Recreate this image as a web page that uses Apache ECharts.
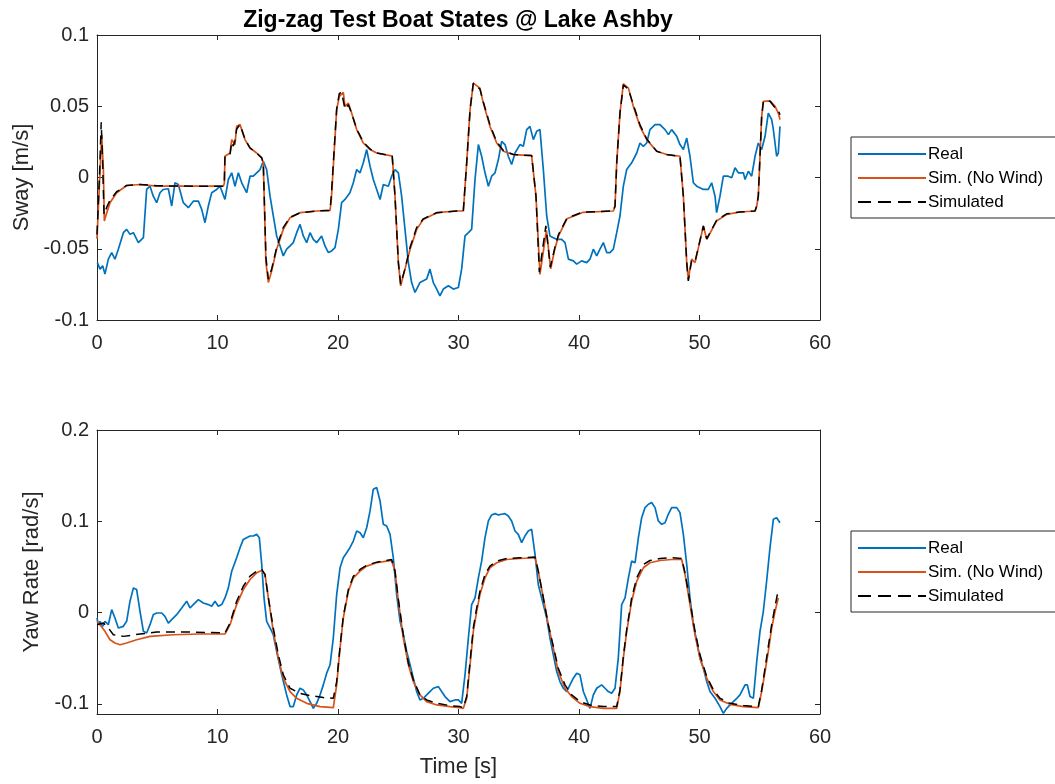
<!DOCTYPE html>
<html>
<head>
<meta charset="utf-8">
<title>Zig-zag Test Boat States @ Lake Ashby</title>
<script src="https://cdn.jsdelivr.net/npm/echarts@6.0.0/dist/echarts.min.js"></script>
<style>
  html, body { margin: 0; padding: 0; background: #fff; }
  #chart { width: 1055px; height: 784px; }
</style>
</head>
<body>
<div id="chart"></div>
<script>
// ---- Sway velocity [m/s] vs time [s] ----
const swayReal = [
  [0.03,-0.0597],[0.25,-0.0643],[0.47,-0.0620],[0.66,-0.0678],[0.94,-0.0573],[1.22,-0.0527],[1.49,-0.0573],[1.77,-0.0503],
  [2.19,-0.0387],[2.46,-0.0364],[2.74,-0.0399],[3.02,-0.0387],[3.43,-0.0457],[3.85,-0.0422],[4.12,-0.0084],[4.40,-0.0061],
  [4.67,-0.0131],[4.95,-0.0177],[5.23,-0.0107],[5.50,-0.0084],[5.92,-0.0079],[6.20,-0.0200],[6.47,-0.0037],[6.75,-0.0049],
  [7.16,-0.0177],[7.58,-0.0212],[7.99,-0.0166],[8.41,-0.0166],[8.69,-0.0224],[8.96,-0.0317],[9.24,-0.0200],[9.52,-0.0107],
  [9.93,-0.0084],[10.21,-0.0061],[10.62,-0.0154],[10.90,-0.0014],[11.18,0.0033],[11.45,-0.0061],[11.73,0.0033],[12.01,-0.0037],
  [12.42,-0.0107],[12.70,0.0009],[12.97,0.0009],[13.25,0.0033],[13.53,0.0056],[13.80,0.0114],[14.08,0.0056],[14.36,-0.0131],
  [14.63,-0.0270],[14.91,-0.0410],[15.19,-0.0480],[15.46,-0.0550],[15.74,-0.0503],[16.02,-0.0480],[16.29,-0.0457],[16.57,-0.0387],
  [16.85,-0.0329],[17.12,-0.0410],[17.40,-0.0457],[17.68,-0.0387],[17.95,-0.0434],[18.23,-0.0457],[18.64,-0.0410],[18.92,-0.0480],
  [19.20,-0.0527],[19.47,-0.0515],[19.75,-0.0492],[20.03,-0.0364],[20.30,-0.0177],[20.58,-0.0154],[20.99,-0.0107],[21.27,-0.0037],
  [21.55,0.0056],[21.83,0.0033],[22.10,0.0103],[22.38,0.0196],[22.66,0.0079],[22.93,-0.0014],[23.21,-0.0084],[23.49,-0.0154],
  [23.76,-0.0049],[24.18,-0.0061],[24.45,0.0009],[24.73,0.0056],[25.01,0.0033],[25.28,-0.0131],[25.56,-0.0364],[25.84,-0.0597],
  [26.11,-0.0737],[26.39,-0.0807],[26.80,-0.0737],[27.36,-0.0713],[27.63,-0.0643],[27.91,-0.0737],[28.19,-0.0783],[28.46,-0.0830],
  [28.74,-0.0783],[29.16,-0.0760],[29.57,-0.0783],[29.99,-0.0772],[30.26,-0.0643],[30.54,-0.0410],[30.82,-0.0387],[31.09,-0.0364],
  [31.37,-0.0014],[31.65,0.0231],[31.92,0.0149],[32.20,0.0033],[32.48,-0.0061],[32.75,0.0009],[33.03,0.0033],[33.31,0.0126],
  [33.58,0.0254],[33.86,0.0231],[34.13,0.0149],[34.41,0.0091],[34.69,0.0172],[35.10,0.0231],[35.38,0.0219],[35.66,0.0336],
  [35.93,0.0359],[36.21,0.0266],[36.49,0.0324],[36.76,0.0336],[37.04,0.0056],[37.32,-0.0270],[37.59,-0.0410],[37.87,-0.0422],
  [38.15,-0.0434],[38.56,-0.0434],[38.84,-0.0457],[39.12,-0.0573],[39.53,-0.0585],[39.81,-0.0608],[40.22,-0.0585],[40.64,-0.0597],
  [40.91,-0.0573],[41.19,-0.0503],[41.47,-0.0550],[41.74,-0.0503],[42.02,-0.0457],[42.30,-0.0527],[42.57,-0.0527],[42.85,-0.0503],
  [43.13,-0.0387],[43.40,-0.0270],[43.68,-0.0061],[43.96,0.0056],[44.37,0.0103],[44.79,0.0172],[45.06,0.0242],[45.34,0.0219],
  [45.62,0.0242],[45.89,0.0336],[46.31,0.0371],[46.72,0.0371],[47.14,0.0336],[47.42,0.0301],[47.69,0.0336],[48.11,0.0289],
  [48.38,0.0231],[48.66,0.0196],[48.94,0.0277],[49.21,0.0149],[49.49,-0.0037],[49.77,-0.0061],[50.32,-0.0084],[50.73,-0.0084],
  [51.01,-0.0037],[51.29,-0.0131],[51.42,-0.0247],[51.70,-0.0131],[51.98,0.0009],[52.39,0.0009],[52.67,-0.0002],[52.95,0.0068],
  [53.22,0.0033],[53.64,0.0033],[53.78,-0.0014],[54.05,0.0044],[54.33,0.0009],[54.61,0.0149],[54.88,0.0242],[55.16,0.0196],
  [55.44,0.0289],[55.71,0.0452],[55.85,0.0464],[55.99,0.0406],[56.13,0.0336],[56.40,0.0149],[56.54,0.0172],[56.68,0.0359]
];

const swaySimNoWind = [
  [0,-0.0430],[0.20,-0.0050],[0.39,0.0300],[0.53,0.0050],[0.61,-0.0305],[0.80,-0.0250],[1.08,-0.0177],[1.63,-0.0107],
  [2.46,-0.0056],[3.57,-0.0049],[5.00,-0.0060],[8.00,-0.0061],[10.48,-0.0061],[10.57,-0.0040],[10.62,0.0149],[11.04,0.0172],
  [11.18,0.0266],[11.45,0.0231],[11.59,0.0359],[11.87,0.0371],[12.28,0.0266],[12.70,0.0207],[13.25,0.0172],[13.67,0.0138],
  [13.80,0.0100],[14.02,-0.0597],[14.22,-0.0737],[14.50,-0.0655],[14.91,-0.0503],[15.46,-0.0364],[16.02,-0.0282],[16.85,-0.0247],
  [18.23,-0.0235],[19.34,-0.0231],[19.45,-0.0150],[19.89,0.0476],[20.11,0.0569],[20.44,0.0597],[20.58,0.0499],[20.86,0.0522],
  [21.13,0.0452],[21.55,0.0336],[22.10,0.0242],[22.66,0.0196],[23.21,0.0172],[24.32,0.0154],[24.50,0.0149],[24.73,-0.0131],
  [25.01,-0.0597],[25.20,-0.0760],[25.56,-0.0643],[25.98,-0.0503],[26.53,-0.0364],[27.08,-0.0294],[28.19,-0.0247],[29.85,-0.0235],
  [30.40,-0.0235],[30.68,0.0103],[30.96,0.0476],[31.23,0.0662],[31.37,0.0674],[31.78,0.0627],[32.06,0.0522],[32.61,0.0359],
  [33.17,0.0242],[33.72,0.0184],[34.55,0.0161],[36.07,0.0154],[36.21,0.0140],[36.43,-0.0131],[36.76,-0.0680],[37.30,-0.0370],
  [37.65,-0.0640],[38.00,-0.0500],[38.30,-0.0410],[39.00,-0.0290],[40.30,-0.0245],[42.85,-0.0235],[42.99,-0.0200],[43.13,0.0103],
  [43.40,0.0452],[43.68,0.0657],[44.10,0.0627],[44.51,0.0499],[45.06,0.0359],[45.62,0.0266],[46.45,0.0184],[47.28,0.0161],
  [48.38,0.0149],[48.52,0.0140],[48.66,-0.0131],[48.94,-0.0597],[49.07,-0.0713],[49.35,-0.0573],[49.63,-0.0597],[50.32,-0.0340],
  [50.60,-0.0434],[51.42,-0.0305],[52.26,-0.0259],[53.36,-0.0242],[54.61,-0.0235],[54.75,-0.0200],[54.88,-0.0131],[55.16,0.0429],
  [55.30,0.0534],[55.85,0.0538],[56.27,0.0499],[56.54,0.0452],[56.68,0.0406]
];

const swaySim = [
  [0,-0.0400],[0.20,0.0000],[0.35,0.0387],[0.47,0.0100],[0.58,-0.0260],[0.80,-0.0210],[1.08,-0.0160],[1.63,-0.0100],
  [2.46,-0.0056],[3.57,-0.0049],[5.00,-0.0058],[8.00,-0.0061],[10.48,-0.0061],[10.57,-0.0020],[10.62,0.0149],[11.04,0.0160],
  [11.18,0.0250],[11.31,0.0220],[11.45,0.0260],[11.59,0.0340],[11.87,0.0371],[12.28,0.0270],[12.70,0.0207],[13.25,0.0172],
  [13.67,0.0138],[13.80,0.0100],[14.02,-0.0560],[14.22,-0.0713],[14.50,-0.0640],[14.91,-0.0490],[15.46,-0.0350],[16.02,-0.0280],
  [16.85,-0.0247],[18.23,-0.0235],[19.34,-0.0231],[19.45,-0.0120],[19.89,0.0480],[20.11,0.0590],[20.30,0.0597],[20.44,0.0590],
  [20.58,0.0480],[20.86,0.0510],[21.13,0.0452],[21.55,0.0340],[22.10,0.0250],[22.66,0.0200],[23.21,0.0172],[24.32,0.0154],
  [24.50,0.0149],[24.73,-0.0131],[25.01,-0.0597],[25.20,-0.0748],[25.56,-0.0640],[25.98,-0.0490],[26.53,-0.0350],[27.08,-0.0290],
  [28.19,-0.0247],[29.85,-0.0235],[30.40,-0.0235],[30.68,0.0103],[30.96,0.0476],[31.23,0.0662],[31.37,0.0670],[31.78,0.0620],
  [32.06,0.0530],[32.61,0.0370],[33.17,0.0250],[33.72,0.0190],[34.55,0.0161],[36.07,0.0154],[36.21,0.0140],[36.43,-0.0131],
  [36.71,-0.0664],[37.25,-0.0340],[37.62,-0.0630],[38.00,-0.0490],[38.30,-0.0400],[39.00,-0.0285],[40.30,-0.0243],[42.85,-0.0235],
  [42.99,-0.0200],[43.13,0.0103],[43.40,0.0452],[43.68,0.0650],[44.10,0.0620],[44.51,0.0510],[45.06,0.0370],[45.62,0.0270],
  [46.45,0.0184],[47.28,0.0161],[48.38,0.0149],[48.52,0.0140],[48.66,-0.0131],[48.94,-0.0597],[49.07,-0.0725],[49.35,-0.0580],
  [49.63,-0.0590],[50.32,-0.0340],[50.60,-0.0430],[51.42,-0.0300],[52.26,-0.0255],[53.36,-0.0242],[54.61,-0.0235],[54.75,-0.0200],
  [54.88,-0.0131],[55.16,0.0429],[55.30,0.0534],[55.85,0.0535],[56.27,0.0490],[56.54,0.0470],[56.68,0.0440]
];

// ---- Yaw rate [rad/s] vs time [s] ----
const yawReal = [
  [0,-0.0059],[0.11,-0.0132],[0.25,-0.0095],[0.47,-0.0150],[0.66,-0.0095],[0.94,-0.0132],[1.22,0.0033],[1.49,-0.0059],
  [1.77,-0.0168],[2.19,-0.0150],[2.46,-0.0095],[2.74,0.0125],[3.02,0.0271],[3.29,0.0253],[3.57,0.0015],[3.85,-0.0205],
  [4.12,-0.0223],[4.40,-0.0132],[4.67,-0.0022],[4.95,-0.0004],[5.37,-0.0004],[5.64,-0.0040],[5.92,-0.0114],[6.20,-0.0077],
  [6.61,-0.0022],[7.03,0.0051],[7.44,0.0125],[7.72,0.0051],[7.99,0.0088],[8.41,0.0143],[8.82,0.0106],[9.24,0.0088],
  [9.52,0.0070],[9.79,0.0125],[10.07,0.0070],[10.35,0.0088],[10.62,0.0161],[10.90,0.0271],[11.18,0.0454],[11.59,0.0601],
  [11.87,0.0711],[12.14,0.0802],[12.42,0.0821],[12.70,0.0839],[12.97,0.0839],[13.25,0.0857],[13.47,0.0821],[13.67,0.0527],
  [13.86,0.0161],[14.08,-0.0095],[14.36,-0.0168],[14.63,-0.0242],[14.91,-0.0425],[15.33,-0.0681],[15.74,-0.0901],[16.02,-0.1029],
  [16.29,-0.1029],[16.57,-0.0901],[16.85,-0.0828],[17.12,-0.0846],[17.40,-0.0901],[17.68,-0.0974],[17.95,-0.1048],[18.23,-0.0993],
  [18.51,-0.0901],[18.78,-0.0791],[19.06,-0.0663],[19.34,-0.0571],[19.61,-0.0278],[19.89,0.0198],[20.17,0.0491],[20.44,0.0601],
  [20.72,0.0656],[20.99,0.0711],[21.27,0.0784],[21.55,0.0894],[21.83,0.0875],[22.10,0.0821],[22.38,0.0930],[22.66,0.1114],
  [22.93,0.1352],[23.21,0.1370],[23.49,0.1223],[23.76,0.0967],[24.04,0.0949],[24.32,0.0857],[24.59,0.0601],[24.87,0.0198],
  [25.15,-0.0095],[25.42,-0.0242],[25.70,-0.0425],[25.98,-0.0571],[26.25,-0.0718],[26.53,-0.0864],[26.80,-0.0956],[27.08,-0.0938],
  [27.36,-0.0901],[27.63,-0.0864],[27.91,-0.0828],[28.33,-0.0810],[28.60,-0.0864],[28.88,-0.0919],[29.29,-0.0974],[29.71,-0.0956],
  [29.99,-0.0956],[30.26,-0.0993],[30.54,-0.0681],[30.82,-0.0278],[31.09,0.0088],[31.37,0.0161],[31.65,0.0381],[31.92,0.0564],
  [32.20,0.0821],[32.48,0.1004],[32.75,0.1070],[33.03,0.1084],[33.31,0.1070],[33.58,0.1077],[33.86,0.1084],[34.13,0.1059],
  [34.41,0.1004],[34.69,0.0894],[34.96,0.0857],[35.24,0.0766],[35.51,0.0839],[35.79,0.0894],[36.07,0.0912],[36.35,0.0637],
  [36.62,0.0308],[37.04,0.0088],[37.32,-0.0059],[37.59,-0.0278],[37.87,-0.0462],[38.15,-0.0645],[38.42,-0.0755],[38.70,-0.0828],
  [38.98,-0.0864],[39.25,-0.0791],[39.53,-0.0718],[39.81,-0.0663],[40.08,-0.0681],[40.36,-0.0864],[40.64,-0.0956],[40.91,-0.1048],
  [41.19,-0.0901],[41.47,-0.0828],[41.88,-0.0791],[42.16,-0.0828],[42.43,-0.0864],[42.71,-0.0883],[42.99,-0.0828],[43.26,-0.0498],
  [43.54,0.0088],[43.82,0.0161],[44.10,0.0381],[44.37,0.0564],[44.65,0.0546],[44.93,0.0821],[45.20,0.1040],[45.48,0.1150],
  [45.76,0.1187],[46.03,0.1205],[46.31,0.1150],[46.58,0.1004],[46.86,0.0967],[47.14,0.0985],[47.41,0.1077],[47.69,0.1150],
  [48.11,0.1150],[48.38,0.1095],[48.66,0.0857],[48.94,0.0527],[49.21,0.0161],[49.49,-0.0132],[49.77,-0.0315],[50.04,-0.0498],
  [50.32,-0.0608],[50.60,-0.0755],[50.87,-0.0864],[51.29,-0.0938],[51.70,-0.1029],[51.98,-0.1103],[52.26,-0.1048],[52.53,-0.1011],
  [52.81,-0.0974],[53.09,-0.0938],[53.36,-0.0901],[53.78,-0.0791],[53.97,-0.0791],[54.19,-0.0919],[54.47,-0.0938],[54.75,-0.0535],
  [55.02,-0.0205],[55.30,0.0015],[55.57,0.0344],[55.85,0.0711],[56.13,0.1022],[56.40,0.1040],[56.68,0.0985]
];

const yawSimNoWind = [
  [0,-0.0095],[0.25,-0.0132],[0.66,-0.0205],[1.08,-0.0297],[1.49,-0.0333],[1.91,-0.0352],[2.46,-0.0333],[3.29,-0.0297],
  [4.40,-0.0260],[6.33,-0.0242],[8.55,-0.0234],[10.62,-0.0234],[11.04,-0.0132],[11.59,0.0088],[12.14,0.0253],[12.70,0.0363],
  [13.25,0.0436],[13.67,0.0462],[13.94,0.0418],[14.22,0.0161],[14.63,-0.0205],[15.05,-0.0498],[15.46,-0.0718],[16.02,-0.0864],
  [16.57,-0.0938],[17.40,-0.0993],[18.51,-0.1029],[19.61,-0.1040],[19.89,-0.0791],[20.17,-0.0388],[20.44,-0.0059],[20.86,0.0234],
  [21.27,0.0381],[21.83,0.0454],[22.38,0.0509],[23.21,0.0546],[24.04,0.0564],[24.45,0.0571],[24.73,0.0454],[25.01,0.0125],
  [25.42,-0.0278],[25.84,-0.0571],[26.25,-0.0755],[26.80,-0.0901],[27.36,-0.0974],[28.19,-0.1011],[29.29,-0.1029],[30.12,-0.1040],
  [30.40,-0.1048],[30.68,-0.0938],[30.96,-0.0571],[31.23,-0.0205],[31.51,0.0015],[31.78,0.0198],[32.20,0.0381],[32.61,0.0491],
  [33.17,0.0546],[34.00,0.0582],[35.10,0.0593],[36.35,0.0601],[36.62,0.0454],[37.04,0.0161],[37.45,-0.0132],[37.87,-0.0388],
  [38.28,-0.0645],[38.84,-0.0828],[39.39,-0.0919],[40.08,-0.0993],[40.91,-0.1029],[42.02,-0.1048],[43.13,-0.1048],[43.40,-0.0864],
  [43.68,-0.0498],[43.96,-0.0205],[44.37,0.0125],[44.79,0.0344],[45.34,0.0491],[45.89,0.0546],[46.72,0.0571],[47.69,0.0582],
  [48.52,0.0582],[48.80,0.0418],[49.21,0.0088],[49.63,-0.0242],[50.04,-0.0498],[50.60,-0.0718],[51.15,-0.0864],[51.70,-0.0956],
  [52.53,-0.1004],[53.64,-0.1029],[54.88,-0.1040],[55.16,-0.0864],[55.44,-0.0645],[55.71,-0.0425],[55.99,-0.0168],[56.27,0.0015],
  [56.54,0.0161]
];

const yawSim = [
  [0,-0.0132],[0.53,-0.0114],[0.94,-0.0168],[1.36,-0.0242],[2.19,-0.0260],[3.57,-0.0234],[4.95,-0.0212],[7.72,-0.0212],
  [10.62,-0.0223],[11.04,-0.0114],[11.59,0.0125],[12.14,0.0289],[12.70,0.0399],[13.25,0.0454],[13.67,0.0473],[13.94,0.0418],
  [14.22,0.0161],[14.63,-0.0168],[15.05,-0.0462],[15.46,-0.0681],[16.02,-0.0828],[16.85,-0.0883],[17.68,-0.0908],[18.78,-0.0930],
  [19.61,-0.0938],[19.89,-0.0755],[20.17,-0.0370],[20.44,-0.0040],[20.86,0.0253],[21.27,0.0399],[21.83,0.0473],[22.38,0.0520],
  [23.21,0.0553],[24.45,0.0582],[24.73,0.0454],[25.01,0.0143],[25.42,-0.0242],[25.84,-0.0553],[26.25,-0.0736],[26.80,-0.0901],
  [27.36,-0.0956],[28.19,-0.0993],[29.29,-0.1018],[30.12,-0.1029],[30.40,-0.1040],[30.68,-0.0919],[30.96,-0.0535],[31.23,-0.0168],
  [31.51,0.0051],[31.78,0.0234],[32.20,0.0418],[32.61,0.0509],[33.17,0.0564],[34.00,0.0593],[35.10,0.0601],[36.35,0.0608],
  [36.62,0.0454],[37.04,0.0161],[37.45,-0.0132],[37.87,-0.0370],[38.28,-0.0608],[38.84,-0.0791],[39.39,-0.0901],[40.08,-0.0974],
  [40.91,-0.1011],[42.02,-0.1029],[43.13,-0.1029],[43.40,-0.0846],[43.68,-0.0480],[43.96,-0.0187],[44.37,0.0161],[44.79,0.0381],
  [45.34,0.0527],[45.89,0.0571],[46.72,0.0593],[47.69,0.0601],[48.52,0.0593],[48.80,0.0436],[49.21,0.0125],[49.63,-0.0205],
  [50.04,-0.0462],[50.60,-0.0700],[51.15,-0.0846],[51.70,-0.0938],[52.53,-0.0993],[53.64,-0.1018],[54.88,-0.1029],[55.16,-0.0846],
  [55.44,-0.0608],[55.71,-0.0370],[55.99,-0.0132],[56.27,0.0070],[56.54,0.0253]
];

// Axis ranges and tick values
const timeRange = [0, 60];
const timeStep = 10;
const swayRange = [-0.1, 0.1];
const swayStep = 0.05;
const yawRange = [-0.111, 0.2];
const yawTicks = [-0.1, 0, 0.1, 0.2];

const seriesNames = ['Real', 'Sim. (No Wind)', 'Simulated'];

const FONT = '"Liberation Sans", Arial, Helvetica, sans-serif';
const AXIS_COLOR = '#262626';
const COLORS = { real: '#0072BD', noWind: '#D95319', sim: '#000000' };
const SIM_DASH = [9, 6];

function xAxisPair(gridIndex, name) {
  const base = {
    type: 'value', gridIndex: gridIndex,
    min: timeRange[0], max: timeRange[1], interval: timeStep,
    splitLine: { show: false },
    axisLine: { show: true, onZero: false, lineStyle: { color: AXIS_COLOR, width: 1 } },
    axisTick: { show: true, inside: true, length: 5, lineStyle: { color: AXIS_COLOR, width: 1 } }
  };
  const bottom = Object.assign({}, base, {
    position: 'bottom',
    axisLabel: { color: AXIS_COLOR, fontSize: 20, fontFamily: FONT, margin: 13 },
    name: name || '', nameLocation: 'middle', nameGap: 42,
    nameTextStyle: { color: AXIS_COLOR, fontSize: 22, fontFamily: FONT }
  });
  const top = Object.assign({}, base, { position: 'top', axisLabel: { show: false } });
  return [bottom, top];
}

function yAxisPair(gridIndex, range, extra, name, nameGap) {
  const base = Object.assign({
    type: 'value', gridIndex: gridIndex,
    min: range[0], max: range[1],
    splitLine: { show: false },
    axisLine: { show: true, onZero: false, lineStyle: { color: AXIS_COLOR, width: 1 } }
  }, extra.scale || {});
  const left = Object.assign({}, base, {
    position: 'left',
    axisTick: Object.assign({ show: true, inside: true, length: 5, lineStyle: { color: AXIS_COLOR, width: 1 } }, extra.tick || {}),
    axisLabel: Object.assign({ color: AXIS_COLOR, fontSize: 20, fontFamily: FONT, margin: 8, padding: [6, 0, 0, 0] }, extra.tick || {}),
    name: name, nameLocation: 'middle', nameGap: nameGap,
    nameTextStyle: { color: AXIS_COLOR, fontSize: 22, fontFamily: FONT }
  });
  const right = Object.assign({}, base, {
    position: 'right',
    axisTick: Object.assign({ show: true, inside: true, length: 5, lineStyle: { color: AXIS_COLOR, width: 1 } }, extra.tick || {}),
    axisLabel: { show: false }
  });
  return [left, right];
}

function lineSeries(name, data, color, gridAxis, dashed) {
  return {
    name: name, type: 'line', data: data,
    xAxisIndex: gridAxis.x, yAxisIndex: gridAxis.y,
    symbol: 'none', showSymbol: false, smooth: false,
    animation: false,
    lineStyle: { color: color, width: dashed ? 1.5 : 1.7, type: dashed ? SIM_DASH : 'solid' },
    itemStyle: { color: color },
    emphasis: { disabled: true }
  };
}

function legendAt(top) {
  return {
    data: [
      { name: seriesNames[0] },
      { name: seriesNames[1] },
      { name: seriesNames[2], lineStyle: { type: [13, 7] } }
    ],
    orient: 'vertical', left: 851, top: top,
    backgroundColor: '#ffffff', borderColor: AXIS_COLOR, borderWidth: 1,
    padding: [8, 30, 7, 6], itemWidth: 68, itemHeight: 12, itemGap: 6,
    selectedMode: false,
    itemStyle: { opacity: 0, borderWidth: 0 },
    textStyle: { color: '#000', fontSize: 17, fontFamily: FONT, lineHeight: 18, padding: [0, 0, 0, -3] }
  };
}

const chart = echarts.init(document.getElementById('chart'), null, { renderer: 'canvas' });

const swayAxes = { x: 0, y: 0 };
const yawAxes = { x: 2, y: 2 };

chart.setOption({
  backgroundColor: '#ffffff',
  animation: false,
  title: {
    text: 'Zig-zag Test Boat States @ Lake Ashby',
    left: 453, top: 4, textAlign: 'center',
    textStyle: { color: '#000', fontSize: 23, fontWeight: 'bold', fontFamily: FONT }
  },
  grid: [
    { left: 97, top: 35, width: 723, height: 285, show: false },
    { left: 97, top: 430, width: 723, height: 284, show: false }
  ],
  xAxis: [].concat(xAxisPair(0), xAxisPair(1, 'Time [s]')),
  yAxis: [].concat(
    yAxisPair(0, swayRange, { scale: { interval: swayStep } }, 'Sway [m/s]', 64),
    yAxisPair(1, yawRange, { tick: { customValues: yawTicks } }, 'Yaw Rate [rad/s]', 54)
  ),
  legend: [legendAt(137), legendAt(531)],
  series: [
    lineSeries('Real', swayReal, COLORS.real, swayAxes, false),
    lineSeries('Sim. (No Wind)', swaySimNoWind, COLORS.noWind, swayAxes, false),
    lineSeries('Simulated', swaySim, COLORS.sim, swayAxes, true),
    lineSeries('Real', yawReal, COLORS.real, yawAxes, false),
    lineSeries('Sim. (No Wind)', yawSimNoWind, COLORS.noWind, yawAxes, false),
    lineSeries('Simulated', yawSim, COLORS.sim, yawAxes, true)
  ]
});
</script>
</body>
</html>
